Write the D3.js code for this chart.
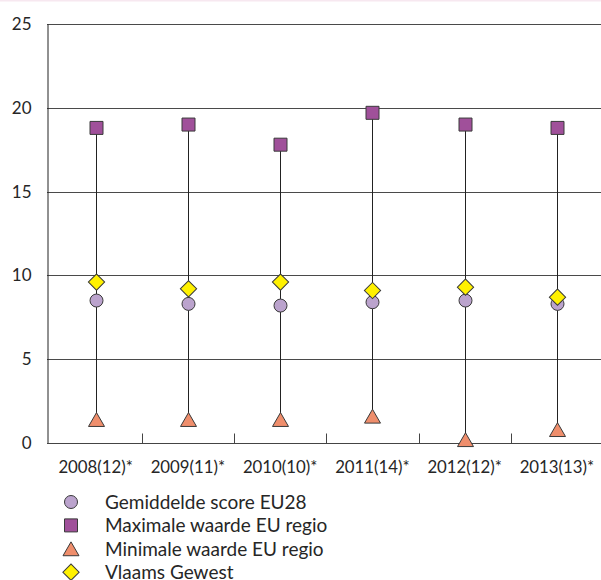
<!DOCTYPE html>
<html><head><meta charset="utf-8">
<script src="https://cdn.jsdelivr.net/npm/d3@7"></script>
<style>html,body{margin:0;padding:0;background:#fff;}svg{display:block;}</style>
</head><body>
<svg id="chart" width="601" height="580"></svg>
<script>
const categories = ["2008(12)*","2009(11)*","2010(10)*","2011(14)*","2012(12)*","2013(13)*"];
const gemiddelde = [8.5, 8.3, 8.2, 8.4, 8.5, 8.3];
const maximale   = [18.8, 19.0, 17.8, 19.7, 19.0, 18.8];
const minimale   = [1.4, 1.4, 1.4, 1.6, 0.2, 0.8];
const vlaams     = [9.6, 9.2, 9.6, 9.1, 9.3, 8.7];
const yTicks = [0, 5, 10, 15, 20, 25];
const legendLabels = ["Gemiddelde score EU28","Maximale waarde EU regio","Minimale waarde EU regio","Vlaams Gewest"];

(function(){
const colors = {circle:"#BBA3CD", square:"#A0509A", triangle:"#EF8E6C", diamond:"#FFF100"};
const strokeC = "#3a3a3a";
const font = "Lato, 'Open Sans', sans-serif";
const textC = "#262626";

const svg = d3.select("#chart");
svg.append("rect").attr("x",0).attr("y",0).attr("width",601).attr("height",1.5).attr("fill","#f7e8f0");

const mLeft = 47, mTop = 24, mBottom = 443;
const x = d3.scaleBand().domain(categories).range([49.5, 603]).padding(0);
const y = d3.scaleLinear().domain([0,25]).range([mBottom, mTop]);

svg.append("g").selectAll("line").data(yTicks.filter(d=>d>0)).join("line")
  .attr("x1",mLeft).attr("x2",601).attr("y1",d=>Math.round(y(d))+0.5).attr("y2",d=>Math.round(y(d))+0.5)
  .attr("stroke","#4a4a4a").attr("stroke-width",1);

const yAxis = d3.axisLeft(y).tickValues(yTicks).tickSize(0).tickPadding(16);
const gy = svg.append("g").attr("transform",`translate(${mLeft+0.5},0)`).call(yAxis);
gy.select(".domain").attr("stroke","#222");
gy.selectAll("text").attr("font-family",font).attr("font-size",17).attr("fill",textC);

const gx = svg.append("g").attr("transform",`translate(0,${Math.round(mBottom)+0.5})`);
gx.append("line").attr("x1",mLeft).attr("x2",601).attr("stroke","#444");
const bounds = categories.slice(1).map(c=>x(c));
gx.selectAll("line.tk").data(bounds).join("line").attr("class","tk")
  .attr("x1",d=>Math.round(d)+0.5).attr("x2",d=>Math.round(d)+0.5).attr("y1",0).attr("y2",-10)
  .attr("stroke","#444");
gx.selectAll("text").data(categories).join("text")
  .attr("x",d=>x(d)+x.bandwidth()/2).attr("y",29.5)
  .attr("text-anchor","middle").attr("font-family",font).attr("font-size",16.8).attr("fill",textC)
  .text(d=>d);

const cx = i => Math.round(x(categories[i]) + x.bandwidth()/2) + 0.5;

svg.append("g").selectAll("line").data(categories).join("line")
  .attr("x1",(d,i)=>cx(i)).attr("x2",(d,i)=>cx(i))
  .attr("y1",(d,i)=>y(minimale[i])).attr("y2",(d,i)=>y(maximale[i]))
  .attr("stroke","#222").attr("stroke-width",1);

const triSize = 0.433*16*16;
const triH = 16*Math.sqrt(3)/2;
const symTri = d3.symbol().type(d3.symbolTriangle).size(triSize);
const symSq = d3.symbol().type(d3.symbolSquare).size(13*13);
const symDia = d3.symbol().type(d3.symbolSquare).size(11.5*11.5);

function drawCircle(g, px, py){ g.append("circle").attr("cx",px).attr("cy",py).attr("r",6.5).attr("fill",colors.circle).attr("stroke",strokeC).attr("stroke-width",1); }
function drawSquare(g, px, py){ g.append("path").attr("d",symSq()).attr("transform",`translate(${px},${py})`).attr("fill",colors.square).attr("stroke",strokeC).attr("stroke-width",1); }
function drawTri(g, px, py){ g.append("path").attr("d",symTri()).attr("transform",`translate(${px},${py+triH/6})`).attr("fill",colors.triangle).attr("stroke",strokeC).attr("stroke-width",1); }
function drawDia(g, px, py){ g.append("path").attr("d",symDia()).attr("transform",`translate(${px},${py}) rotate(45)`).attr("fill",colors.diamond).attr("stroke",strokeC).attr("stroke-width",1); }

const marks = svg.append("g");
categories.forEach((c,i)=>{
  drawSquare(marks, cx(i), y(maximale[i]));
  drawCircle(marks, cx(i), y(gemiddelde[i]));
  drawTri(marks, cx(i), y(minimale[i]));
  drawDia(marks, cx(i), y(vlaams[i]));
});

const legend = svg.append("g");
const drawers = [drawCircle, drawSquare, drawTri, drawDia];
legendLabels.forEach((lab,i)=>{
  const ly = 502 + i*23.4;
  drawers[i](legend, 71, ly);
  legend.append("text").attr("x",105).attr("y",ly).attr("dy","0.36em")
    .attr("font-family",font).attr("font-size",19).attr("fill",textC).text(lab);
});
})();
</script>
</body></html>
